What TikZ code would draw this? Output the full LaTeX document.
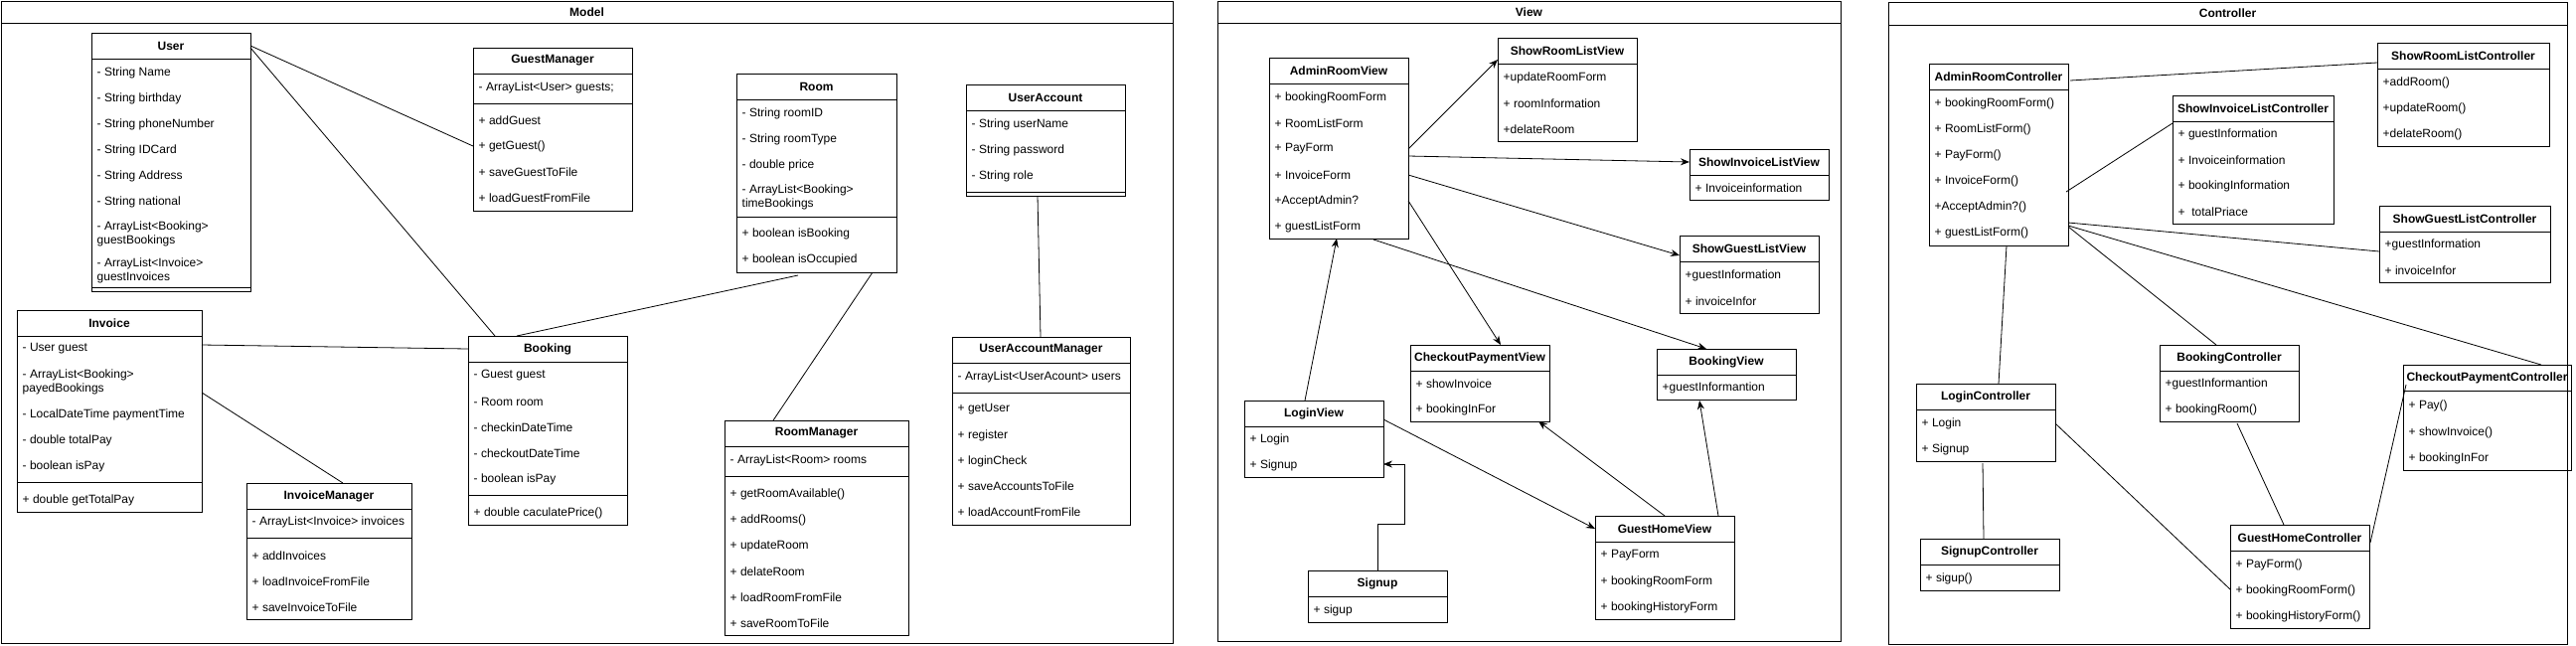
\documentclass[tikz,border=0pt]{standalone}
\usepackage{fontspec}
\setmainfont{Liberation Sans}
\usetikzlibrary{arrows.meta}
\tikzset{
 cbox/.style={draw, line width=1pt, rectangle, inner sep=0pt, outer sep=0pt, anchor=north west},
 ctitle/.style={font=\bfseries\fontsize{12}{14}\selectfont, inner sep=0pt},
 citem/.style={font=\fontsize{12}{14}\selectfont, anchor=west, inner sep=0pt, align=left},
 link/.style={line width=0.8pt},
 arr/.style={line width=0.8pt, -{Stealth[length=9pt,width=7pt]}},
 panel/.style={draw, line width=1pt, rectangle, inner sep=0pt, outer sep=0pt, anchor=north west},
}
\newcommand\cls[6]{%
 \node[cbox, minimum width=#4pt, minimum height=#5pt] (#1) at (#2,#3) {};
 \node[ctitle] (#1-t) at ([yshift=-13pt]#1.north) {#6};
 \draw[line width=1pt] ([yshift=-26pt]#1.north west) -- ([yshift=-26pt]#1.north east);}
\newcommand\itm[3]{\node[citem] at ([xshift=5.5pt,yshift=-#2pt]#1.north west) {#3};}
\newcommand\dvd[2]{\draw[line width=1pt] ([yshift=-#2pt]#1.north west) -- ([yshift=-#2pt]#1.north east);}
\begin{document}
\begin{tikzpicture}[x=1pt,y=-1pt]
\useasboundingbox (0,0) rectangle (2592,649);
% panels
\node[panel, minimum width=1179pt, minimum height=646pt] (model) at (1,1) {};
\draw[line width=1pt] ([yshift=-22pt]model.north west) -- ([yshift=-22pt]model.north east);
\node[ctitle] (model-t) at ([yshift=-11pt]model.north) {Model};
\node[panel, minimum width=627pt, minimum height=644pt] (view) at (1225,1) {};
\draw[line width=1pt] ([yshift=-22pt]view.north west) -- ([yshift=-22pt]view.north east);
\node[ctitle] (view-t) at ([yshift=-11pt]view.north) {View};
\node[panel, minimum width=683pt, minimum height=646pt] (ctrl) at (1900,2) {};
\draw[line width=1pt] ([yshift=-23pt]ctrl.north west) -- ([yshift=-23pt]ctrl.north east);
\node[ctitle] (ctrl-t) at ([yshift=-11.5pt]ctrl.north) {Controller};

% ===== Model =====
\cls{user}{92}{33}{160}{260}{User}
\itm{user}{40}{- String Name}
\itm{user}{66}{- String birthday}
\itm{user}{92}{- String phoneNumber}
\itm{user}{118}{- String IDCard}
\itm{user}{144}{- String Address}
\itm{user}{170}{- String national}
\itm{user}{202.5}{- ArrayList<Booking>\\guestBookings}
\itm{user}{239}{- ArrayList<Invoice>\\guestInvoices}
\dvd{user}{256}

\cls{invoice}{17}{312}{186}{203}{Invoice}
\itm{invoice}{39}{- User guest}
\itm{invoice}{72}{- ArrayList<Booking>\\payedBookings}
\itm{invoice}{105}{- LocalDateTime paymentTime}
\itm{invoice}{131}{- double totalPay}
\itm{invoice}{157}{- boolean isPay}
\dvd{invoice}{173}
\itm{invoice}{191}{+ double getTotalPay}

\cls{invmgr}{248}{486}{166}{137}{InvoiceManager}
\itm{invmgr}{39}{- ArrayList<Invoice> invoices}
\dvd{invmgr}{55}
\itm{invmgr}{73}{+ addInvoices}
\itm{invmgr}{99}{+ loadInvoiceFromFile}
\itm{invmgr}{125}{+ saveInvoiceToFile}

\cls{guestmgr}{476}{48}{160}{164}{GuestManager}
\itm{guestmgr}{40}{- ArrayList<User> guests;}
\dvd{guestmgr}{56}
\itm{guestmgr}{73}{+ addGuest}
\itm{guestmgr}{99}{+ getGuest()}
\itm{guestmgr}{125}{+ saveGuestToFile}
\itm{guestmgr}{151}{+ loadGuestFromFile}

\cls{room}{741}{74}{161}{200}{Room}
\itm{room}{40}{- String roomID}
\itm{room}{66}{- String roomType}
\itm{room}{92}{- double price}
\itm{room}{124}{- ArrayList<Booking>\\timeBookings}
\dvd{room}{144}
\itm{room}{161}{+ boolean isBooking}
\itm{room}{187}{+ boolean isOccupied}

\cls{uacc}{972}{85}{160}{112}{UserAccount}
\itm{uacc}{40}{- String userName}
\itm{uacc}{66}{- String password}
\itm{uacc}{92}{- String role}
\dvd{uacc}{108}

\cls{booking}{471}{338}{160}{190}{Booking}
\itm{booking}{40}{- Guest guest}
\itm{booking}{66}{- Room room}
\itm{booking}{92}{- checkinDateTime}
\itm{booking}{118}{- checkoutDateTime}
\itm{booking}{144}{- boolean isPay}
\dvd{booking}{160}
\itm{booking}{178}{+ double caculatePrice()}

\cls{roommgr}{729}{423}{185}{216}{RoomManager}
\itm{roommgr}{40}{- ArrayList<Room> rooms}
\dvd{roommgr}{56}
\itm{roommgr}{74}{+ getRoomAvailable()}
\itm{roommgr}{100}{+ addRooms()}
\itm{roommgr}{126}{+ updateRoom}
\itm{roommgr}{152}{+ delateRoom}
\itm{roommgr}{178}{+ loadRoomFromFile}
\itm{roommgr}{204}{+ saveRoomToFile}

\cls{uamgr}{958}{339}{179}{189}{UserAccountManager}
\itm{uamgr}{40}{- ArrayList<UserAcount> users}
\dvd{uamgr}{56}
\itm{uamgr}{73}{+ getUser}
\itm{uamgr}{99}{+ register}
\itm{uamgr}{125}{+ loginCheck}
\itm{uamgr}{150}{+ saveAccountsToFile}
\itm{uamgr}{176}{+ loadAccountFromFile}

\draw[link] ([xshift=160pt,yshift=-13pt]user.north west) -- ([yshift=-99pt]guestmgr.north west);
\draw[link] ([xshift=160pt,yshift=-15pt]user.north west) -- ([xshift=27pt]booking.north west);
\draw[link] ([xshift=186pt,yshift=-35pt]invoice.north west) -- ([yshift=-13pt]booking.north west);
\draw[link] ([xshift=186pt,yshift=-83pt]invoice.north west) -- ([xshift=97pt]invmgr.north west);
\draw[link] ([xshift=49pt]booking.north west) -- ([xshift=62pt,yshift=-203pt]room.north west);
\draw[link] ([xshift=137pt,yshift=-200pt]room.north west) -- ([xshift=49pt]roommgr.north west);
\draw[link] ([xshift=72pt,yshift=-112pt]uacc.north west) -- ([xshift=89pt]uamgr.north west);

% ===== View =====
\cls{arv}{1277}{58}{140}{182}{AdminRoomView}
\itm{arv}{40}{+ bookingRoomForm}
\itm{arv}{66}{+ RoomListForm}
\itm{arv}{92}{+ PayForm}
\itm{arv}{118}{+ InvoiceForm}
\itm{arv}{144}{+AcceptAdmin?}
\itm{arv}{170}{+ guestListForm}

\cls{srlv}{1507}{38}{140}{104}{ShowRoomListView}
\itm{srlv}{40}{+updateRoomForm}
\itm{srlv}{66}{+ roomInformation}
\itm{srlv}{92}{+delateRoom}

\cls{silv}{1700}{150}{140}{51}{ShowInvoiceListView}
\itm{silv}{39}{+ Invoiceinformation}

\cls{sglv}{1690}{237}{140}{78}{ShowGuestListView}
\itm{sglv}{40}{+guestInformation}
\itm{sglv}{66}{+ invoiceInfor}

\cls{cpv}{1419}{347}{140}{77}{CheckoutPaymentView}
\itm{cpv}{39}{+ showInvoice}
\itm{cpv}{65}{+ bookingInFor}

\cls{bv}{1667}{351}{140}{51}{BookingView}
\itm{bv}{39}{+guestInformantion}

\cls{lv}{1252}{403}{140}{77}{LoginView}
\itm{lv}{39}{+ Login}
\itm{lv}{65}{+ Signup}

\cls{sv}{1316}{574}{140}{52}{Signup}
\itm{sv}{40}{+ sigup}

\cls{ghv}{1605}{519}{140}{104}{GuestHomeView}
\itm{ghv}{40}{+ PayForm}
\itm{ghv}{66}{+ bookingRoomForm}
\itm{ghv}{92}{+ bookingHistoryForm}

\draw[arr] ([xshift=140pt,yshift=-92pt]arv.north west) -- ([yshift=-22pt]srlv.north west);
\draw[arr] ([xshift=140pt,yshift=-99pt]arv.north west) -- ([yshift=-13pt]silv.north west);
\draw[arr] ([xshift=140pt,yshift=-118pt]arv.north west) -- ([yshift=-20pt]sglv.north west);
\draw[arr] ([xshift=140pt,yshift=-144pt]arv.north west) -- ([xshift=91pt]cpv.north west);
\draw[arr] ([xshift=105pt,yshift=-183pt]arv.north west) -- ([xshift=50pt]bv.north west);
\draw[arr] ([xshift=61pt]lv.north west) -- ([xshift=68pt,yshift=-182pt]arv.north west);
\draw[arr] ([xshift=140pt,yshift=-19pt]lv.north west) -- ([yshift=-13pt]ghv.north west);
\draw[arr] ([xshift=70pt]sv.north west) -- ++(0,-47) -- ++(27,0) -- ++(0,-60) -- ([xshift=140pt,yshift=-64pt]lv.north west);
\draw[arr] ([xshift=70pt]ghv.north west) -- ([xshift=129pt,yshift=-77pt]cpv.north west);
\draw[arr] ([xshift=124pt]ghv.north west) -- ([xshift=43pt,yshift=-52pt]bv.north west);

% ===== Controller =====
\cls{arc}{1941}{64}{140}{183}{AdminRoomController}
\itm{arc}{40}{+ bookingRoomForm()}
\itm{arc}{66}{+ RoomListForm()}
\itm{arc}{92}{+ PayForm()}
\itm{arc}{118}{+ InvoiceForm()}
\itm{arc}{144}{+AcceptAdmin?()}
\itm{arc}{170}{+ guestListForm()}

\cls{silc}{2186}{96}{162}{129}{ShowInvoiceListController}
\itm{silc}{39}{+ guestInformation}
\itm{silc}{65}{+ Invoiceinformation}
\itm{silc}{91}{+ bookingInformation}
\itm{silc}{117}{+ \ totalPriace}

\cls{srlc}{2392}{43}{173}{104}{ShowRoomListController}
\itm{srlc}{40}{+addRoom()}
\itm{srlc}{66}{+updateRoom()}
\itm{srlc}{92}{+delateRoom()}

\cls{sglc}{2394}{207}{172}{77}{ShowGuestListController}
\itm{sglc}{39}{+guestInformation}
\itm{sglc}{65}{+ invoiceInfor}

\cls{bc}{2173}{347}{140}{77}{BookingController}
\itm{bc}{39}{+guestInformantion}
\itm{bc}{65}{+ bookingRoom()}

\cls{cpc}{2418}{367}{169}{106}{CheckoutPaymentController}
\itm{cpc}{41}{+ Pay()}
\itm{cpc}{68}{+ showInvoice()}
\itm{cpc}{94}{+ bookingInFor}

\cls{ghc}{2244}{528}{140}{104}{GuestHomeController}
\itm{ghc}{40}{+ PayForm()}
\itm{ghc}{66}{+ bookingRoomForm()}
\itm{ghc}{92}{+ bookingHistoryForm()}

\cls{lc}{1928}{386}{140}{78}{LoginController}
\itm{lc}{40}{+ Login}
\itm{lc}{66}{+ Signup}

\cls{sc}{1932}{542}{140}{52}{SignupController}
\itm{sc}{40}{+ sigup()}

\draw[link] ([xshift=142pt,yshift=-17pt]arc.north west) -- ([yshift=-20pt]srlc.north west);
\draw[link] ([xshift=138pt,yshift=-129pt]arc.north west) -- ([yshift=-28pt]silc.north west);
\draw[link] ([xshift=140pt,yshift=-160pt]arc.north west) -- ([yshift=-46pt]sglc.north west);
\draw[link] ([xshift=140pt,yshift=-163pt]arc.north west) -- ([xshift=139pt]cpc.north west);
\draw[link] ([xshift=140pt,yshift=-164pt]arc.north west) -- ([xshift=57pt]bc.north west);
\draw[link] ([xshift=78pt,yshift=-79pt]bc.north west) -- ([xshift=54pt]ghc.north west);
\draw[link] ([xshift=83pt]lc.north west) -- ([xshift=78pt,yshift=-183pt]arc.north west);
\draw[link] ([xshift=67pt,yshift=-80pt]lc.north west) -- ([xshift=64pt]sc.north west);
\draw[link] ([xshift=140pt,yshift=-40pt]lc.north west) -- ([yshift=-65pt]ghc.north west);
\draw[link] ([xshift=141pt,yshift=-18pt]ghc.north west) -- ([xshift=3pt,yshift=-20pt]cpc.north west);
\end{tikzpicture}
\end{document}
